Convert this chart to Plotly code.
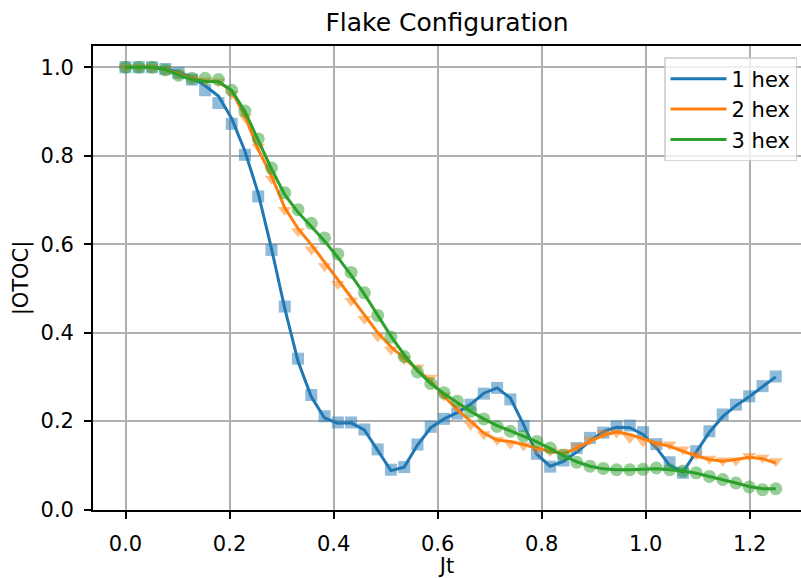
import numpy as np
import plotly.graph_objects as go

# Sample times Jt (50 evenly spaced samples from 0 to 1.25)
jt = np.linspace(0.0, 1.25, 50)

# |OTOC| sample points (markers)
hex1_pts = [1.000, 1.000, 1.000, 0.996, 0.987, 0.972, 0.948, 0.919, 0.872, 0.802,
            0.708, 0.587, 0.459, 0.341, 0.259, 0.211, 0.197, 0.197, 0.181, 0.136,
            0.090, 0.096, 0.147, 0.187, 0.205, 0.217, 0.237, 0.262, 0.275, 0.249,
            0.189, 0.126, 0.097, 0.111, 0.139, 0.162, 0.174, 0.188, 0.190, 0.175,
            0.148, 0.107, 0.083, 0.132, 0.177, 0.215, 0.237, 0.256, 0.279, 0.301]
hex2_pts = [1.000, 1.000, 1.000, 0.995, 0.985, 0.975, 0.970, 0.968, 0.940, 0.887,
            0.820, 0.748, 0.677, 0.629, 0.588, 0.550, 0.510, 0.472, 0.431, 0.391,
            0.362, 0.340, 0.321, 0.298, 0.258, 0.232, 0.192, 0.170, 0.157, 0.149,
            0.145, 0.137, 0.133, 0.130, 0.143, 0.158, 0.173, 0.174, 0.162, 0.154,
            0.148, 0.147, 0.136, 0.124, 0.115, 0.111, 0.111, 0.121, 0.117, 0.109]
hex3_pts = [1.000, 1.000, 1.000, 0.994, 0.982, 0.975, 0.975, 0.972, 0.948, 0.901,
            0.838, 0.772, 0.716, 0.678, 0.647, 0.614, 0.578, 0.536, 0.490, 0.439,
            0.390, 0.346, 0.311, 0.285, 0.264, 0.245, 0.222, 0.205, 0.188, 0.177,
            0.166, 0.154, 0.139, 0.123, 0.107, 0.098, 0.093, 0.090, 0.090, 0.091,
            0.094, 0.090, 0.087, 0.083, 0.075, 0.068, 0.060, 0.051, 0.045, 0.047]

# |OTOC| reference curves (lines)
hex1_line = [1.000, 1.000, 1.000, 0.997, 0.989, 0.977, 0.958, 0.935, 0.884, 0.810,
             0.715, 0.590, 0.455, 0.335, 0.255, 0.207, 0.195, 0.196, 0.180, 0.134,
             0.088, 0.096, 0.146, 0.185, 0.205, 0.219, 0.238, 0.263, 0.275, 0.252,
             0.192, 0.125, 0.098, 0.109, 0.130, 0.155, 0.176, 0.186, 0.185, 0.170,
             0.140, 0.100, 0.085, 0.130, 0.175, 0.210, 0.235, 0.255, 0.277, 0.300]
hex2_line = [1.000, 1.000, 1.000, 0.995, 0.985, 0.975, 0.969, 0.967, 0.946, 0.889,
             0.814, 0.754, 0.682, 0.635, 0.599, 0.560, 0.520, 0.480, 0.440, 0.400,
             0.368, 0.342, 0.318, 0.290, 0.256, 0.226, 0.200, 0.173, 0.157, 0.154,
             0.147, 0.139, 0.131, 0.126, 0.139, 0.154, 0.168, 0.175, 0.170, 0.160,
             0.150, 0.143, 0.132, 0.121, 0.113, 0.109, 0.113, 0.118, 0.115, 0.105]
hex3_line = [1.000, 1.000, 1.000, 0.995, 0.982, 0.972, 0.968, 0.967, 0.948, 0.900,
             0.835, 0.770, 0.712, 0.672, 0.640, 0.607, 0.570, 0.530, 0.487, 0.440,
             0.392, 0.350, 0.314, 0.285, 0.262, 0.242, 0.222, 0.205, 0.190, 0.178,
             0.166, 0.153, 0.138, 0.122, 0.108, 0.098, 0.092, 0.090, 0.090, 0.091,
             0.092, 0.090, 0.087, 0.082, 0.075, 0.067, 0.060, 0.052, 0.047, 0.047]

names = ["1 hex", "2 hex", "3 hex"]
colors = ["#1f77b4", "#ff7f0e", "#2ca02c"]
symbols = ["square", "triangle-down", "circle"]
msizes = [12, 12, 13]
points = [hex1_pts, hex2_pts, hex3_pts]
lines = [hex1_line, hex2_line, hex3_line]

FONT = "DejaVu Sans"

fig = go.Figure()
for name, col, sym, ms, pts, ln in zip(names, colors, symbols, msizes, points, lines):
    fig.add_trace(go.Scatter(
        x=jt, y=pts, mode="markers", showlegend=False, hoverinfo="skip",
        marker=dict(symbol=sym, size=ms, color=col, opacity=0.5, line=dict(width=0)),
    ))
    fig.add_trace(go.Scatter(
        x=jt, y=ln, mode="lines", name=name,
        line=dict(color=col, width=3),
    ))

axis_common = dict(
    showline=True, linecolor="black", linewidth=1.7,
    ticks="outside", ticklen=7, tickwidth=1.7, tickcolor="black",
    showgrid=True, gridcolor="#b0b0b0", gridwidth=1.7,
    zeroline=False, tickfont=dict(family=FONT, size=21, color="black"),
    tickformat=".1f",
)

fig.update_layout(
    width=801, height=578,
    margin=dict(l=93, r=0, t=46, b=68),
    paper_bgcolor="white", plot_bgcolor="white",
    font=dict(family=FONT, color="black"),
    title=dict(text="Flake Configuration", x=0.5, xref="paper", xanchor="center",
               y=0.962, yref="container", yanchor="middle",
               font=dict(family=FONT, size=25, color="black")),
    xaxis=dict(axis_common, range=[-0.0625, 1.2985], tickvals=[0, 0.2, 0.4, 0.6, 0.8, 1.0, 1.2],
               mirror=True, ticklabelstandoff=7,
               title=dict(text="Jt", font=dict(family=FONT, size=21, color="black"), standoff=1)),
    yaxis=dict(axis_common, range=[-0.001, 1.048], tickvals=[0, 0.2, 0.4, 0.6, 0.8, 1.0],
               ticklabelstandoff=6,
               title=dict(text="|OTOC|", font=dict(family=FONT, size=21, color="black"), standoff=6)),
    legend=dict(x=0.9944, y=0.976, xanchor="right", yanchor="top",
                bgcolor="rgba(255,255,255,0.8)", bordercolor="rgba(204,204,204,0.8)",
                borderwidth=1.5, font=dict(family=FONT, size=21, color="black"),
                itemwidth=56, tracegroupgap=0),
)

fig.write_html("out.html")
